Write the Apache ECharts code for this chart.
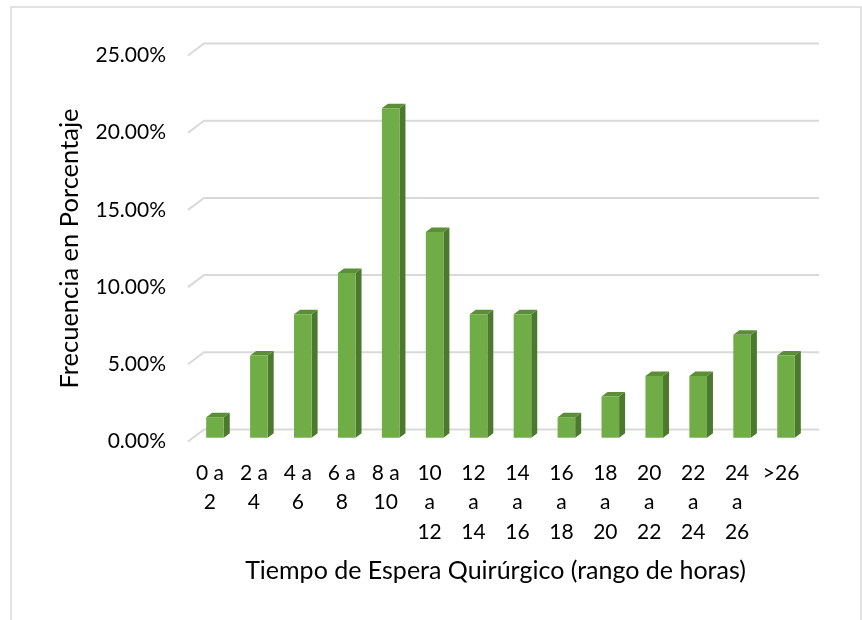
<!DOCTYPE html>
<html><head><meta charset="utf-8">
<script src="https://cdn.jsdelivr.net/npm/echarts@6/dist/echarts.min.js"></script>
<style>html,body{margin:0;padding:0;background:#fff}#c{width:862px;height:620px}</style>
</head><body><div id="c"></div>
<script>
const categories = ['0 a 2','2 a 4','4 a 6','6 a 8','8 a 10','10 a 12','12 a 14','14 a 16','16 a 18','18 a 20','20 a 22','22 a 24','24 a 26','>26'];
const frecuencia = [1.33,5.33,8.00,10.67,21.33,13.33,8.00,8.00,1.33,2.67,4.00,4.00,6.67,5.33];
const yTicks = [0,5,10,15,20,25];
const yTitle = 'Frecuencia en Porcentaje';
const xTitle = 'Tiempo de Espera Quirúrgico (rango de horas)';

const FONT = 'Lato';
const DEPTH_X = 16, DEPTH_Y = 12;     // floor depth (back wall offset)
const BAR_OX = 5, BAR_OY = 3.8;       // bar placement inside depth
const BAR_DX = 6, BAR_DY = 4.5;       // bar own depth

function renderGrid(params, api){
  const cs = params.coordSys;
  const y = api.coord([0, api.value(1)])[1];
  return {type:'polyline', silent:true,
    shape:{points:[[cs.x, y],[cs.x+DEPTH_X, y-DEPTH_Y],[cs.x+cs.width+DEPTH_X, y-DEPTH_Y]]},
    style:{stroke:'#D9D9D9', lineWidth:2, fill:null}};
}
function renderBar(params, api){
  const i = api.value(0), v = api.value(1);
  const top = api.coord([i, v]), base = api.coord([i, 0]);
  const w = api.size([1,0])[0]*0.4;
  const cx = top[0] + BAR_OX;
  const l = cx - w/2, r = cx + w/2;
  const yt = top[1] - BAR_OY, yb = base[1] - BAR_OY;
  return {type:'group', children:[
    {type:'polygon', shape:{points:[[r,yb],[r,yt],[r+BAR_DX,yt-BAR_DY],[r+BAR_DX,yb-BAR_DY]]}, style:{fill:'#4B792D'}},
    {type:'polygon', shape:{points:[[l,yt],[r,yt],[r+BAR_DX,yt-BAR_DY],[l+BAR_DX,yt-BAR_DY]]}, style:{fill:'#5A8F37'}},
    {type:'rect', shape:{x:l,y:yt,width:w,height:yb-yt}, style:{fill:'#70AD47'}}
  ]};
}

const chart = echarts.init(document.getElementById('c'), null, {renderer:'canvas'});
chart.setOption({
  animation:false,
  backgroundColor:'#fff',
  graphic:[{type:'rect', shape:{x:11,y:7,width:850,height:700}, style:{fill:null, stroke:'#D9D9D9', lineWidth:1.5}, silent:true}],
  grid:{left:188, right:59, top:55.5, bottom:178.5},
  xAxis:{type:'category', data:categories, boundaryGap:true,
    axisLine:{show:false}, axisTick:{show:false},
    axisLabel:{interval:0, margin:16.75, color:'#000', fontFamily:FONT, fontSize:21, lineHeight:29.5,
      formatter:function(s){ const p=s.split(' '); if(p.length<3) return s; return p[0].length===1 ? p[0]+' a\n'+p[2] : p.join('\n'); }},
    name:xTitle, nameLocation:'middle', nameGap:117,
    nameTextStyle:{color:'#000', fontFamily:FONT, fontSize:25}},
  yAxis:{type:'value', min:0, max:25, interval:5,
    axisLine:{show:false}, axisTick:{show:false}, splitLine:{show:false},
    axisLabel:{margin:22, color:'#000', fontFamily:FONT, fontSize:21, formatter:function(v){return v.toFixed(2)+'%';}},
    name:yTitle, nameLocation:'middle', nameGap:105,
    nameTextStyle:{color:'#000', fontFamily:FONT, fontSize:25.5}},
  series:[
    {type:'custom', renderItem:renderGrid, data:yTicks.map(t=>[0,t]), z:1, silent:true},
    {type:'custom', renderItem:renderBar, data:frecuencia.map((v,i)=>[i,v]), z:2}
  ]
});
</script></body></html>
